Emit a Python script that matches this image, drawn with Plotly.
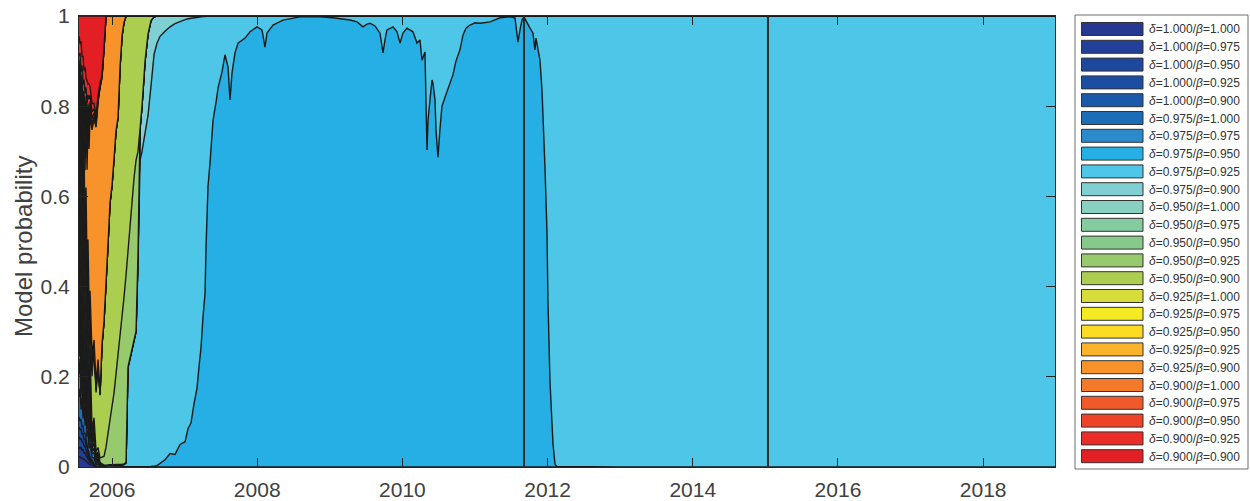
import plotly.graph_objects as go

# Dates as decimal years
T = [
    2005.545, 2005.559, 2005.573, 2005.587, 2005.601, 2005.614, 2005.628, 2005.642,
    2005.656, 2005.669, 2005.683, 2005.697, 2005.725, 2005.752, 2005.780, 2005.807,
    2005.835, 2005.862, 2005.890, 2005.917, 2005.945, 2005.972,
    2006.000, 2006.028, 2006.055, 2006.083, 2006.110, 2006.138, 2006.165, 2006.193,
    2006.220, 2006.248, 2006.275, 2006.303, 2006.331, 2006.358, 2006.386, 2006.413,
    2006.455, 2006.496, 2006.537, 2006.579, 2006.620, 2006.661,
    2006.730, 2006.799, 2006.868, 2006.937, 2007.006,
    2007.047, 2007.088, 2007.129, 2007.171, 2007.198,
    2007.226, 2007.253, 2007.281, 2007.295, 2007.309,
    2007.322, 2007.350, 2007.391, 2007.433, 2007.460,
    2007.515, 2007.556, 2007.598, 2007.625, 2007.653,
    2007.694, 2007.736, 2007.832, 2007.901, 2007.997,
    2008.066, 2008.107, 2008.135, 2008.218, 2008.355,
    2008.590, 2008.824, 2009.044, 2009.278, 2009.375,
    2009.457, 2009.512, 2009.554, 2009.623, 2009.691,
    2009.733, 2009.760, 2009.788, 2009.871, 2009.926,
    2009.967, 2010.008, 2010.063, 2010.146, 2010.201,
    2010.242, 2010.270, 2010.311, 2010.339, 2010.353,
    2010.380, 2010.408, 2010.421, 2010.449, 2010.463,
    2010.490, 2010.518, 2010.545, 2010.587, 2010.656,
    2010.697, 2010.738, 2010.793, 2010.835, 2010.876,
    2010.931, 2011.000, 2011.069, 2011.207, 2011.344,
    2011.482, 2011.551, 2011.592, 2011.620, 2011.647,
    2011.675, 2011.716, 2011.758, 2011.799, 2011.826,
    2011.840, 2011.868, 2011.895, 2011.923, 2011.937,
    2011.964, 2011.992, 2012.005, 2012.033, 2012.061,
    2012.074, 2012.102, 2012.129,
    2013.0, 2014.0, 2015.0, 2016.0, 2017.0, 2018.0, 2019.0,
]


def pad(values):
    """Models that are never selected again stay at zero for the rest of the sample."""
    return values + [0.0] * (len(T) - len(values))


# Posterior model probabilities, one list per (delta, beta) pair
p_d1000_b1000 = pad([0.02, 0.022, 0.018, 0.02, 0.016, 0.017, 0.013, 0.014, 0.01, 0.009, 0.007, 0.005,
                     0.004, 0.002, 0.001])
p_d1000_b0975 = pad([0.02, 0.018, 0.021, 0.017, 0.018, 0.014, 0.015, 0.011, 0.011, 0.008, 0.007, 0.005,
                     0.003, 0.002, 0.001])
p_d1000_b0950 = pad([0.02, 0.021, 0.017, 0.019, 0.015, 0.016, 0.012, 0.013, 0.009, 0.009, 0.006, 0.005,
                     0.003, 0.001])
p_d1000_b0925 = pad([0.02, 0.019, 0.02, 0.016, 0.017, 0.013, 0.014, 0.01, 0.01, 0.007, 0.006, 0.004,
                     0.003, 0.001])
p_d1000_b0900 = pad([0.02, 0.02, 0.018, 0.018, 0.015, 0.015, 0.012, 0.012, 0.009, 0.008, 0.006, 0.004,
                     0.002, 0.001])
p_d0975_b1000 = pad([0.04, 0.07, 0.02, 0.065, 0.015, 0.06, 0.015, 0.055, 0.012, 0.045, 0.01, 0.035,
                     0.006, 0.014, 0.003, 0.006, 0.001, 0.001])
p_d0975_b0975 = pad([0.045, 0.065, 0.025, 0.06, 0.02, 0.055, 0.012, 0.05, 0.015, 0.04, 0.008, 0.03,
                     0.008, 0.012, 0.002, 0.005, 0.001])
p_d0975_b0950 = [
    0.035, 0.075, 0.015, 0.07, 0.02, 0.065, 0.018, 0.05, 0.01, 0.04, 0.012, 0.03,
    0.005, 0.01, 0.003, 0.004, 0.001, 0.001, 0, 0, 0, 0,
    0, 0, 0, 0, 0, 0, 0, 0, 0, 0, 0, 0, 0, 0, 0, 0,
    0, 0, 0.001, 0.002, 0.003, 0.008,
    0.016, 0.030, 0.028, 0.050, 0.056,
    0.085, 0.098, 0.140, 0.175, 0.222,
    0.265, 0.332, 0.385, 0.487, 0.541,
    0.622, 0.675, 0.768, 0.809, 0.840,
    0.876, 0.914, 0.887, 0.814, 0.874,
    0.918, 0.940, 0.951, 0.965, 0.976,
    0.969, 0.931, 0.962, 0.980, 0.991,
    0.998, 0.999, 0.996, 0.991, 0.987,
    0.976, 0.982, 0.984, 0.978, 0.962,
    0.918, 0.947, 0.969, 0.976, 0.965,
    0.940, 0.962, 0.973, 0.965, 0.940,
    0.947, 0.902, 0.920, 0.703, 0.769,
    0.814, 0.858, 0.851, 0.814, 0.747,
    0.687, 0.750, 0.800, 0.820, 0.850,
    0.870, 0.900, 0.925, 0.958, 0.973,
    0.980, 0.985, 0.984, 0.987, 0.996,
    0.998, 0.996, 0.942, 0.969, 0.991,
    0.998, 0.984, 0.973, 0.962, 0.925,
    0.951, 0.925, 0.902, 0.836, 0.760,
    0.665, 0.520, 0.370, 0.190, 0.100,
    0.053, 0.006, 0.001,
    0, 0, 0, 0, 0, 0, 0,
]
p_d0975_b0925 = [
    0.04, 0.07, 0.02, 0.06, 0.018, 0.055, 0.012, 0.05, 0.012, 0.04, 0.01, 0.03,
    0.006, 0.012, 0.004, 0.004, 0.002, 0.002, 0.002, 0.002, 0.003, 0.003,
    0.003, 0.003, 0.003, 0.004, 0.004, 0.004, 0.005, 0.008, 0.22, 0.24, 0.26, 0.28,
    0.30, 0.45, 0.68, 0.70, 0.74, 0.78, 0.844, 0.913, 0.937, 0.947,
    0.950, 0.946, 0.955, 0.938, 0.936,
    0.909, 0.897, 0.857, 0.823, 0.777,
    0.734, 0.667, 0.614, 0.513, 0.459,
    0.378, 0.325, 0.232, 0.191, 0.160,
    0.124, 0.086, 0.113, 0.186, 0.126,
    0.082, 0.060, 0.049, 0.035, 0.024,
    0.031, 0.069, 0.038, 0.020, 0.009,
    0.002, 0.001, 0.004, 0.009, 0.013,
    0.024, 0.018, 0.016, 0.022, 0.038,
    0.082, 0.053, 0.031, 0.024, 0.035,
    0.060, 0.038, 0.027, 0.035, 0.060,
    0.053, 0.098, 0.080, 0.297, 0.231,
    0.186, 0.142, 0.149, 0.186, 0.253,
    0.313, 0.250, 0.200, 0.180, 0.150,
    0.130, 0.100, 0.075, 0.042, 0.027,
    0.020, 0.015, 0.016, 0.013, 0.004,
    0.002, 0.004, 0.058, 0.031, 0.009,
    0.002, 0.016, 0.027, 0.038, 0.075,
    0.049, 0.075, 0.098, 0.164, 0.240,
    0.335, 0.480, 0.630, 0.810, 0.900,
    0.947, 0.994, 0.999,
    1, 1, 1, 1, 1, 1, 1,
]
p_d0975_b0900 = pad([
    0.04, 0.065, 0.02, 0.07, 0.015, 0.05, 0.015, 0.055, 0.01, 0.045, 0.01, 0.03,
    0.008, 0.012, 0.004, 0.004, 0.002, 0.002, 0.002, 0.002, 0.002, 0.002,
    0.002, 0.002, 0.002, 0.002, 0.002, 0.002, 0.002, 0.002, 0.002, 0.002, 0.002, 0.002,
    0.002, 0.02, 0.07, 0.10, 0.16, 0.18, 0.145, 0.083, 0.06, 0.045,
    0.034, 0.024, 0.017, 0.012, 0.008, 0.006, 0.005, 0.003, 0.002, 0.001,
    0.001, 0.001, 0.001,
])
p_d0950_b1000 = pad([0.045, 0.07, 0.018, 0.065, 0.02, 0.06, 0.012, 0.045, 0.012, 0.04, 0.008, 0.028,
                     0.006, 0.01, 0.002, 0.004, 0.001])
p_d0950_b0975 = pad([0.035, 0.065, 0.022, 0.06, 0.015, 0.055, 0.015, 0.05, 0.01, 0.035, 0.01, 0.025,
                     0.005, 0.01, 0.003, 0.003, 0.001])
p_d0950_b0950 = pad([0.04, 0.07, 0.02, 0.065, 0.018, 0.06, 0.012, 0.05, 0.012, 0.04, 0.01, 0.03,
                     0.006, 0.012, 0.003, 0.004, 0.001])
p_d0950_b0925 = pad([
    0.04, 0.065, 0.02, 0.06, 0.015, 0.05, 0.015, 0.045, 0.012, 0.035, 0.012, 0.025,
    0.012, 0.014, 0.008, 0.01, 0.01, 0.015, 0.02, 0.04, 0.07, 0.11,
    0.13, 0.16, 0.20, 0.25, 0.28, 0.32, 0.37, 0.42, 0.26, 0.28, 0.33, 0.36,
    0.38, 0.23,
])
p_d0950_b0900 = pad([
    0.04, 0.02, 0.05, 0.03, 0.06, 0.03, 0.06, 0.04, 0.07, 0.05, 0.09, 0.08,
    0.12, 0.16, 0.13, 0.19, 0.14, 0.25, 0.30, 0.38, 0.42, 0.47,
    0.49, 0.52, 0.54, 0.52, 0.60, 0.63, 0.61, 0.58, 0.52, 0.48, 0.41, 0.36,
    0.32, 0.30, 0.25, 0.20, 0.10, 0.04, 0.01, 0.002,
])
p_d0925_b1000 = pad([0.04, 0.015, 0.06, 0.02, 0.055, 0.02, 0.05, 0.02, 0.045, 0.02, 0.04, 0.015,
                     0.012, 0.004, 0.005, 0.0025, 0.001])
p_d0925_b0975 = pad([0.04, 0.02, 0.055, 0.015, 0.06, 0.025, 0.05, 0.015, 0.045, 0.025, 0.035, 0.015,
                     0.01, 0.005, 0.005, 0.002, 0.001])
p_d0925_b0950 = pad([0.04, 0.015, 0.06, 0.02, 0.05, 0.02, 0.055, 0.02, 0.04, 0.02, 0.04, 0.012,
                     0.01, 0.004, 0.004, 0.002, 0.001])
p_d0925_b0925 = pad([0.04, 0.018, 0.058, 0.022, 0.055, 0.018, 0.05, 0.022, 0.045, 0.018, 0.038, 0.015,
                     0.012, 0.005, 0.005, 0.002, 0.001])
p_d0925_b0900 = pad([
    0.04, 0.045, 0.05, 0.06, 0.07, 0.09, 0.12, 0.16, 0.20, 0.28, 0.34, 0.42,
    0.49, 0.506, 0.565, 0.58, 0.68, 0.59, 0.605, 0.576, 0.506, 0.415,
    0.375, 0.315, 0.255, 0.225, 0.115, 0.044, 0.014,
])
p_d0900_b1000 = pad([0.04, 0.015, 0.06, 0.02, 0.055, 0.02, 0.05, 0.02, 0.045, 0.02, 0.035, 0.015,
                     0.012, 0.006, 0.005, 0.003, 0.002, 0.001])
p_d0900_b0975 = pad([0.04, 0.02, 0.055, 0.02, 0.06, 0.02, 0.05, 0.025, 0.045, 0.02, 0.035, 0.02,
                     0.012, 0.008, 0.005, 0.003, 0.002, 0.001])
p_d0900_b0950 = pad([0.04, 0.015, 0.06, 0.02, 0.055, 0.025, 0.05, 0.02, 0.045, 0.02, 0.04, 0.015,
                     0.015, 0.01, 0.007, 0.004, 0.003, 0.002, 0.001])
p_d0900_b0925 = pad([0.04, 0.02, 0.06, 0.02, 0.055, 0.02, 0.05, 0.02, 0.045, 0.025, 0.035, 0.02,
                     0.018, 0.012, 0.008, 0.005, 0.003, 0.002, 0.001])
p_d0900_b0900 = pad([0.04, 0.06, 0.05, 0.09, 0.08, 0.12, 0.10, 0.14, 0.13, 0.16, 0.15, 0.17,
                     0.19, 0.20, 0.22, 0.18, 0.15, 0.13, 0.07])

series = [
    p_d1000_b1000, p_d1000_b0975, p_d1000_b0950, p_d1000_b0925, p_d1000_b0900,
    p_d0975_b1000, p_d0975_b0975, p_d0975_b0950, p_d0975_b0925, p_d0975_b0900,
    p_d0950_b1000, p_d0950_b0975, p_d0950_b0950, p_d0950_b0925, p_d0950_b0900,
    p_d0925_b1000, p_d0925_b0975, p_d0925_b0950, p_d0925_b0925, p_d0925_b0900,
    p_d0900_b1000, p_d0900_b0975, p_d0900_b0950, p_d0900_b0925, p_d0900_b0900,
]

deltas = ["1.000"] * 5 + ["0.975"] * 5 + ["0.950"] * 5 + ["0.925"] * 5 + ["0.900"] * 5
betas = ["1.000", "0.975", "0.950", "0.925", "0.900"] * 5

colors = [
    "#26388f", "#223f99", "#1d489e", "#1b4ea2", "#1a5aab",
    "#1b6db8", "#2a8acb", "#25afe5", "#4ec6e7", "#7fcfd3",
    "#88d0c0", "#84cc9f", "#86c98a", "#97c96d", "#abce50",
    "#d6dd3a", "#f6ea22", "#fddb25", "#fbb22d", "#f7932a",
    "#f37a28", "#f05a28", "#ee4229", "#ec2c26", "#e31e25",
]

event_dates = [2011.675, 2015.036]

x_range = [2005.545, 2018.99]
year_ticks = [2006, 2008, 2010, 2012, 2014, 2016, 2018]
prob_ticks = [0, 0.2, 0.4, 0.6, 0.8, 1]
prob_labels = ["0", "0.2", "0.4", "0.6", "0.8", "1"]
y_title = "Model probability"

FONT = "Liberation Sans, Arial, Helvetica, sans-serif"
TEXT = "#404040"
AXIS = "#262626"

W, H = 1250, 501
ML, MR, MT, MB = 79, 195, 16, 34
PW, PH = W - ML - MR, H - MT - MB

fig = go.Figure()
for i, (vals, d, b, col) in enumerate(zip(series, deltas, betas, colors)):
    fig.add_trace(go.Scatter(
        x=T, y=vals, mode="lines",
        stackgroup="models", groupnorm="fraction" if i == 0 else None,
        fillcolor=col, line=dict(color="#1a1a1a", width=1.4),
        name=f"δ={d}/β={b}", showlegend=False, hoverinfo="skip",
    ))

shapes = []
for xd in event_dates:
    shapes.append(dict(type="line", xref="x", yref="paper", x0=xd, x1=xd, y0=0, y1=1,
                       line=dict(color="#2a2a2a", width=2), layer="above"))


# Legend and axis title placed in pixel space around the axes
def px(x):
    return (x - ML) / PW


def py(y):
    return (H - MB - y) / PH


shapes.append(dict(type="rect", xref="paper", yref="paper",
                   x0=px(1075), x1=px(1248), y0=py(469), y1=py(15),
                   line=dict(color="#6e6e6e", width=1), fillcolor="white", layer="above"))
annotations = []
for i, (d, b, col) in enumerate(zip(deltas, betas, colors)):
    yc = 29.0 + 17.8 * i
    shapes.append(dict(type="rect", xref="paper", yref="paper",
                       x0=px(1081.5), x1=px(1143), y0=py(yc + 6.5), y1=py(yc - 6.5),
                       line=dict(color="#333333", width=1), fillcolor=col, layer="above"))
    annotations.append(dict(xref="paper", yref="paper", x=px(1147), y=py(yc + 0.5),
                            xanchor="left", yanchor="middle", showarrow=False,
                            text=f"<i>δ</i>={d}/<i>β</i>={b}",
                            font=dict(family=FONT, size=12, color="#333333")))

annotations.append(dict(xref="paper", yref="paper", x=px(23), y=py(247),
                        xanchor="center", yanchor="middle", showarrow=False,
                        textangle=-90, text=y_title,
                        font=dict(family=FONT, size=24, color=TEXT)))

fig.update_layout(
    width=W, height=H,
    margin=dict(l=ML, r=MR, t=MT, b=MB, pad=0),
    paper_bgcolor="white", plot_bgcolor="white",
    font=dict(family=FONT, color=TEXT),
    showlegend=False,
    shapes=shapes, annotations=annotations,
    xaxis=dict(
        range=x_range, tickmode="array", tickvals=year_ticks,
        ticktext=[str(y) for y in year_ticks],
        ticks="inside", ticklen=9, tickwidth=1, tickcolor=AXIS,
        showline=True, linecolor=AXIS, linewidth=1, mirror="ticks",
        showgrid=False, zeroline=False, layer="above traces", automargin=False,
        tickfont=dict(size=21, color=TEXT), ticklabelstandoff=4,
    ),
    yaxis=dict(
        range=[0, 1], tickmode="array", tickvals=prob_ticks, ticktext=prob_labels,
        ticks="inside", ticklen=9, tickwidth=1, tickcolor=AXIS,
        showline=True, linecolor=AXIS, linewidth=1, mirror="ticks",
        showgrid=False, zeroline=False, layer="above traces", automargin=False,
        tickfont=dict(size=21, color=TEXT), ticklabelstandoff=4,
    ),
)

fig.write_html("out.html")
